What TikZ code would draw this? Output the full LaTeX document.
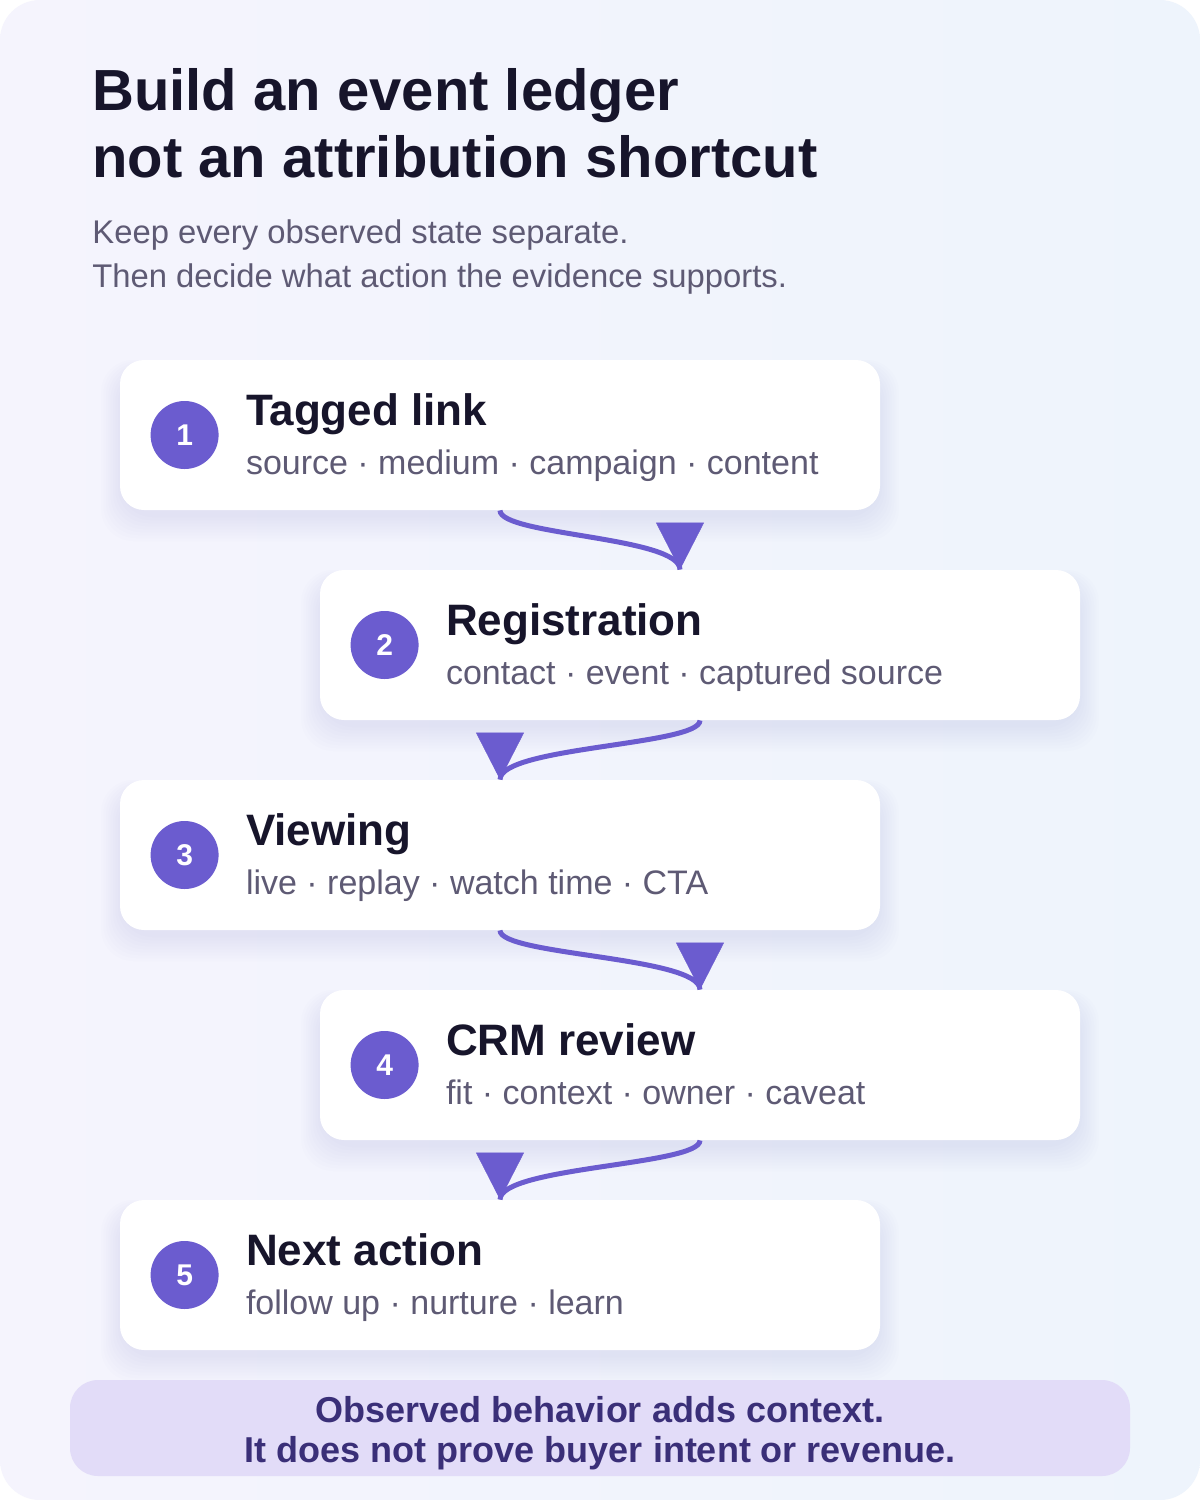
\documentclass[tikz,border=0pt]{standalone}
\usepackage{fontspec}
\setmainfont{Liberation Sans}
\usepackage{tikz}
\usetikzlibrary{arrows.meta,calc}
\usepackage{xcolor}
\definecolor{bgtop}{HTML}{F5F4FD}
\definecolor{bgbot}{HTML}{EEF4FC}
\definecolor{accent}{HTML}{6B5CCF}
\definecolor{ink}{HTML}{17152B}
\definecolor{muted}{HTML}{5E5A74}
\definecolor{footfill}{HTML}{E2DCF8}
\definecolor{footink}{HTML}{3A2F78}
\definecolor{shadowc}{HTML}{9AA2CC}

\begin{document}
\begin{tikzpicture}[x=0.5pt, y=-0.5pt,
card/.style={fill=white, rounded corners=12pt, minimum width=380pt, minimum height=75pt, inner sep=0pt},
halo/.style={fill=shadowc, opacity=0.02, rounded corners=16pt},
num node/.style={circle, fill=accent, minimum size=34pt, inner sep=0pt, text=white, font=\fontsize{15}{15}\selectfont\bfseries},
head/.style={anchor=base west, inner sep=0pt, text=ink, font=\fontsize{22}{22}\selectfont\bfseries},
detail/.style={anchor=base west, inner sep=0pt, text=muted, font=\fontsize{17}{17}\selectfont},
title/.style={anchor=base west, inner sep=0pt, text=ink, font=\fontsize{29}{33}\selectfont\bfseries},
lead/.style={anchor=base west, inner sep=0pt, text=muted, font=\fontsize{16.4}{20}\selectfont},
note/.style={anchor=base, inner sep=0pt, text=footink, font=\fontsize{18}{20}\selectfont\bfseries},
wire/.style={draw=accent, line width=2.5pt},
tip/.style={draw=accent, fill=accent, line width=0.2pt, -{Triangle[width=24pt,length=23.5pt]}}]
\useasboundingbox (0,0) rectangle (1200,1500);
\fill[white] (0,0) rectangle (1200,1500);
\shade[rounded corners=20pt, left color=bgtop, right color=bgbot] (0,0) rectangle (1200,1500);
% steps
\foreach \n/\cx/\cy/\head/\info in {
  1/500/435/Tagged link/{source · medium · campaign · content},
  2/700/645/Registration/{contact · event · captured source},
  3/500/855/Viewing/{live · replay · watch time · CTA},
  4/700/1065/CRM review/{fit · context · owner · caveat},
  5/500/1275/Next action/{follow up · nurture · learn}}
{
  \foreach \s in {2,5,...,26}
    \fill[halo] ({\cx-378-0.8*\s},{\cy-62-0.5*\s}) rectangle ({\cx+378+0.8*\s},{\cy+80+\s});
  \node[card] (c\n) at (\cx,\cy) {};
  \node[num node] (n\n) at ($(c\n.west)+(65,0)$) {\n};
  \node[head] (h\n) at ($(c\n.west)+(126,-10)$) {\head};
  \node[detail] (d\n) at ($(c\n.west)+(126,39)$) {\info};
}
% links
\coordinate (e2) at ($(c2.north)+(-20,0)$);
\coordinate (e3) at (c3.north);
\coordinate (e4) at (c4.north);
\coordinate (e5) at (c5.north);
\foreach \a/\b in {1/2,2/3,3/4,4/5}{
  \draw[wire] (c\a.south) .. controls +(0,25) and +(0,-33) .. (e\b);
  \draw[tip] ($(e\b)+(0,-2)$) -- (e\b);
}
% heading
\node[title] (t1) at (92,110) {Build an event ledger};
\node[title] (t2) at (92,177) {not an attribution shortcut};
\node[lead] (s1) at (92,243) {Keep every observed state separate.};
\node[lead] (s2) at (92,287) {Then decide what action the evidence supports.};
% footer
\node[fill=footfill, rounded corners=14pt, minimum width=530pt, minimum height=48pt, inner sep=0pt] (foot) at (600,1428) {};
\node[note] (f1) at (600,1422) {Observed behavior adds context.};
\node[note] (f2) at (600,1462) {It does not prove buyer intent or revenue.};
\end{tikzpicture}
\end{document}
